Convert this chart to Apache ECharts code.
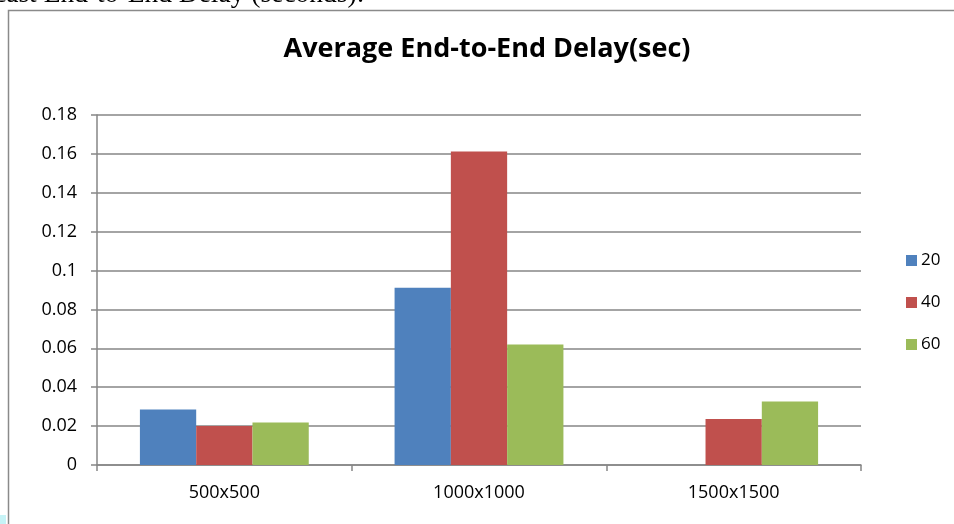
<!DOCTYPE html>
<html>
<head>
<meta charset="utf-8">
<script src="https://cdn.jsdelivr.net/npm/echarts@6/dist/echarts.min.js"></script>
<style>
html,body{margin:0;padding:0;background:#fff;}
#c{width:954px;height:524px;}
</style>
</head>
<body>
<div id="c"></div>
<script>
var categories = ['500x500', '1000x1000', '1500x1500'];
var seriesNames = ['20', '40', '60'];
var s20 = [0.0286, 0.0911, 0];
var s40 = [0.0201, 0.1612, 0.0237];
var s60 = [0.0218, 0.0620, 0.0326];
var yTicks = { min: 0, max: 0.18, interval: 0.02 };
var colors = ['#4F81BD', '#C0504D', '#9BBB59'];

var chart = echarts.init(document.getElementById('c'), null, { renderer: 'canvas' });
var font = 'Open Sans, Liberation Sans, sans-serif';
var data = [s20, s40, s60];
chart.setOption({
  animation: false,
  backgroundColor: '#fff',
  title: {
    text: 'Average End-to-End Delay(sec)',
    left: 482, top: 31, textAlign: 'center',
    textStyle: { fontFamily: font, fontWeight: 'bold', fontSize: 27, color: '#000' }
  },
  graphic: [
    { type: 'rect', shape: { x: 8.5, y: 10.5, width: 960, height: 530 },
      style: { fill: null, stroke: '#8a8a8a', lineWidth: 1.5 }, silent: true },
    { type: 'text', x: -6, y: -19,
      style: { text: 'cast End-to-End Delay (seconds):', font: '27.5px "Liberation Serif", serif', fill: '#000' } },
    { type: 'rect', shape: { x: 0, y: 515, width: 6, height: 9 }, style: { fill: '#c6f3f6' }, silent: true }
  ],
  legend: {
    orient: 'vertical', left: 901, top: 247, itemGap: 25,
    itemWidth: 11, itemHeight: 11, icon: 'rect',
    textStyle: { fontFamily: font, fontSize: 17, color: '#000', padding: [0, 0, 0, -1] },
    data: seriesNames
  },
  grid: { left: 97, right: 93, top: 115, bottom: 59, containLabel: false },
  xAxis: {
    type: 'category', data: categories,
    axisLine: { lineStyle: { color: '#868686', width: 1.5 } },
    axisTick: { show: true, length: 6, lineStyle: { color: '#868686', width: 1.5 }, alignWithLabel: false },
    axisLabel: { fontFamily: font, fontSize: 18, color: '#000', margin: 19 }
  },
  yAxis: {
    type: 'value', min: yTicks.min, max: yTicks.max, interval: yTicks.interval,
    axisLine: { show: true, lineStyle: { color: '#868686', width: 1.5 } },
    axisTick: { show: true, length: 6, lineStyle: { color: '#868686', width: 1.5 } },
    splitLine: { lineStyle: { color: '#868686', width: 1.5 } },
    axisLabel: { fontFamily: font, fontSize: 18, color: '#000', margin: 20 }
  },
  series: seriesNames.map(function (n, i) {
    return {
      name: n, type: 'bar', data: data[i], barGap: '0%', barCategoryGap: '33.7%',
      itemStyle: { color: colors[i] }
    };
  })
});
</script>
</body>
</html>
